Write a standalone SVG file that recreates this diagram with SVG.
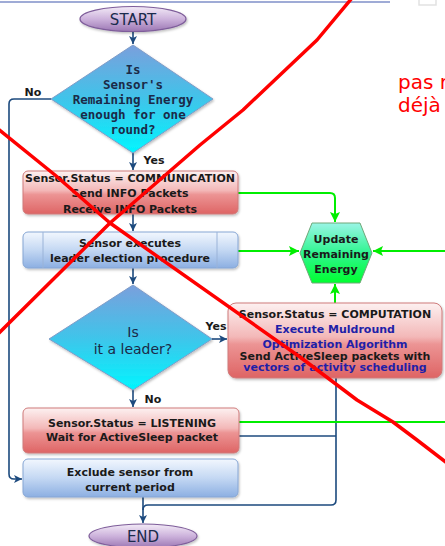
<svg xmlns="http://www.w3.org/2000/svg" width="445" height="546" viewBox="0 0 445 546">
<defs>
<linearGradient id="gEll" x1="0" y1="0" x2="0" y2="1"><stop offset="0" stop-color="#f3ebf7"/><stop offset="0.5" stop-color="#cdb3dc"/><stop offset="1" stop-color="#9b76b3"/></linearGradient>
<linearGradient id="gDia" x1="0" y1="0" x2="0" y2="1"><stop offset="0" stop-color="#7a9fdc"/><stop offset="0.5" stop-color="#40c4ea"/><stop offset="1" stop-color="#00f6ff"/></linearGradient>
<linearGradient id="gRed" x1="0" y1="0" x2="0" y2="1"><stop offset="0" stop-color="#fdf1f1"/><stop offset="0.45" stop-color="#f3b8b8"/><stop offset="0.55" stop-color="#ec9494"/><stop offset="1" stop-color="#de6464"/></linearGradient>
<linearGradient id="gBlue" x1="0" y1="0" x2="0" y2="1"><stop offset="0" stop-color="#f2f7fe"/><stop offset="0.5" stop-color="#c4d8f3"/><stop offset="1" stop-color="#8cafe2"/></linearGradient>
<linearGradient id="gHex" x1="0" y1="0" x2="0" y2="1"><stop offset="0" stop-color="#9af5e6"/><stop offset="0.5" stop-color="#30f590"/><stop offset="1" stop-color="#00ff30"/></linearGradient>
<marker id="aN" markerUnits="userSpaceOnUse" markerWidth="9" markerHeight="9" refX="8" refY="4" orient="auto"><path d="M0,0 L8,4 L0,8 L2,4 z" fill="#1c4a7e"/></marker>
<marker id="aG" markerUnits="userSpaceOnUse" markerWidth="11" markerHeight="11" refX="10" refY="5" orient="auto"><path d="M0,0 L10,5 L0,10 L2,5 z" fill="#00ee00"/></marker>
<filter id="sh" x="-10%" y="-10%" width="120%" height="130%"><feDropShadow dx="1" dy="1.5" stdDeviation="1" flood-color="#000" flood-opacity="0.25"/></filter>
</defs>
<style>
.t{font-family:"DejaVu Sans","Liberation Sans",sans-serif;text-anchor:middle;fill:#1a1a1a}
.b{font-weight:bold;font-size:11px}
.m{font-family:"DejaVu Sans Mono","Liberation Mono",monospace;font-weight:bold;font-size:12.5px;fill:#1b2a48;text-anchor:middle}
.bl{fill:#1f1fa8}
.red{fill:url(#gRed);stroke:#cf7b7b;stroke-width:1}
.blu{fill:url(#gBlue);stroke:#86a6d4;stroke-width:1}
.ell{fill:url(#gEll);stroke:#7e5d9a;stroke-width:1.2}
.dia{fill:url(#gDia);stroke:#7f9cc8;stroke-width:1}
.cn{fill:none;stroke:#1c4a7e;stroke-width:1.6}
.cg{fill:none;stroke:#00ee00;stroke-width:2}
.rl{fill:none;stroke:#ff0000;stroke-width:3.5;stroke-linejoin:round;stroke-linecap:round}
</style>
<rect width="445" height="546" fill="#ffffff"/>
<line x1="0" y1="2" x2="390" y2="2" stroke="#7f8fc8" stroke-width="1.5"/>
<rect x="419" y="-3" width="17" height="8" fill="none" stroke="#e2e2e2" stroke-width="1.5"/>

<g id="connectors">
<path class="cn" d="M133,32 V44" marker-end="url(#aN)"/>
<path class="cn" d="M133,153 V170" marker-end="url(#aN)"/>
<path class="cn" d="M133,214 V231" marker-end="url(#aN)"/>
<path class="cn" d="M133,268 V284" marker-end="url(#aN)"/>
<path class="cn" d="M133,390 V407" marker-end="url(#aN)"/>
<path class="cn" d="M51,99 H14 Q9,99 9,104 V474 Q9,479 14,479 H22" marker-end="url(#aN)"/>
<path class="cn" d="M212,339 H227" marker-end="url(#aN)"/>
<path class="cn" d="M239,436 H336"/>
<path class="cn" d="M336,378 V500 Q336,505 331,505 H148 Q143,505 143,510"/>
<path class="cn" d="M143,497 V523" marker-end="url(#aN)"/>
<path class="cg" d="M238,193 H330 Q335,193 335,198 V222" marker-end="url(#aG)"/>
<path class="cg" d="M238,251 H299" marker-end="url(#aG)"/>
<path class="cg" d="M445,251 H373" marker-end="url(#aG)"/>
<path class="cg" d="M335,303 V284" marker-end="url(#aG)"/>
<path class="cg" d="M239,422 H445" stroke-width="1.6"/>
<text class="t b" x="33" y="96">No</text>
<text class="t b" x="154" y="164">Yes</text>
<text class="t b" x="216" y="330">Yes</text>
<text class="t b" x="153" y="403">No</text>
</g>

<g id="start">
<ellipse class="ell" cx="133" cy="19" rx="53" ry="12.5" filter="url(#sh)"/>
<text class="t" x="133" y="25" font-size="15" fill="#1a2b4c" style="fill:#1a2b4c">START</text>
</g>

<g id="decision1">
<polygon class="dia" points="133,45 213,99 133,153 51,99" filter="url(#sh)"/>
<text class="m" x="133" y="73.5">Is</text>
<text class="m" x="133" y="88.5">Sensor's</text>
<text class="m" x="133" y="103.5">Remaining Energy</text>
<text class="m" x="133" y="118.5">enough for one</text>
<text class="m" x="133" y="133.5">round?</text>
</g>

<g id="communication">
<rect class="red" x="23" y="171" width="215" height="43" rx="5" filter="url(#sh)"/>
<text class="t b" x="130" y="181.5">Sensor.Status = COMMUNICATION</text>
<text class="t b" x="130" y="197">Send INFO Packets</text>
<text class="t b" x="130" y="212.5">Receive INFO Packets</text>
</g>

<g id="election">
<rect class="blu" x="23" y="232" width="215" height="36" rx="5" filter="url(#sh)"/>
<line x1="43" y1="232" x2="43" y2="268" stroke="#9ab3d8" stroke-width="1"/>
<line x1="217" y1="232" x2="217" y2="268" stroke="#9ab3d8" stroke-width="1"/>
<text class="t b" x="130" y="247">Sensor executes</text>
<text class="t b" x="130" y="261.5">leader election procedure</text>
</g>

<g id="update">
<polygon points="300,253 312,223 360,223 372,253 360,283 312,283" fill="url(#gHex)" stroke="#6fa878" stroke-width="1"/>
<text class="t b" x="336" y="243">Update</text>
<text class="t b" x="336" y="258">Remaining</text>
<text class="t b" x="336" y="273">Energy</text>
</g>

<g id="decision2">
<polygon class="dia" points="133,285 212,339 133,390 49,339" filter="url(#sh)"/>
<text class="t" x="133" y="337" font-size="14" style="fill:#1b2a48">Is</text>
<text class="t" x="133" y="354" font-size="14" style="fill:#1b2a48">it a leader?</text>
</g>

<g id="computation">
<rect class="red" x="228" y="303" width="214" height="75" rx="8" filter="url(#sh)"/>
<text class="t b" x="335" y="318">Sensor.Status = COMPUTATION</text>
<text class="t b bl" x="335" y="332.5">Execute Muldround</text>
<text class="t b bl" x="335" y="347.5">Optimization Algorithm</text>
<text class="t b" x="335" y="360">Send ActiveSleep packets with</text>
<text class="t b bl" x="335" y="371">vectors of activity scheduling</text>
</g>

<g id="listening">
<rect class="red" x="23" y="408" width="216" height="45" rx="5" filter="url(#sh)"/>
<text class="t b" x="132" y="427">Sensor.Status = LISTENING</text>
<text class="t b" x="132" y="440.5">Wait for ActiveSleep packet</text>
</g>

<g id="exclude">
<rect class="blu" x="23" y="459" width="215" height="38" rx="5" filter="url(#sh)"/>
<text class="t b" x="130" y="476">Exclude sensor from</text>
<text class="t b" x="130" y="491">current period</text>
</g>

<g id="end">
<ellipse class="ell" cx="143" cy="536" rx="54" ry="12" filter="url(#sh)"/>
<text class="t" x="143" y="542" font-size="15" style="fill:#1a2b4c">END</text>
</g>

<g id="annotation">
<path class="rl" d="M352,-2 L317,40 L280,75 L243,110 L200,145 L110,223 L-2,334"/>
<path class="rl" d="M-2,129 L55,175 L110,223 L300,357 L357,400 L393,422 L417,440 L447,463"/>
<text x="398" y="89" font-family="DejaVu Sans, sans-serif" font-size="20" fill="#ff0000">pas r</text>
<text x="398" y="112" font-family="DejaVu Sans, sans-serif" font-size="20" fill="#ff0000">déjà</text>
</g>
</svg>
